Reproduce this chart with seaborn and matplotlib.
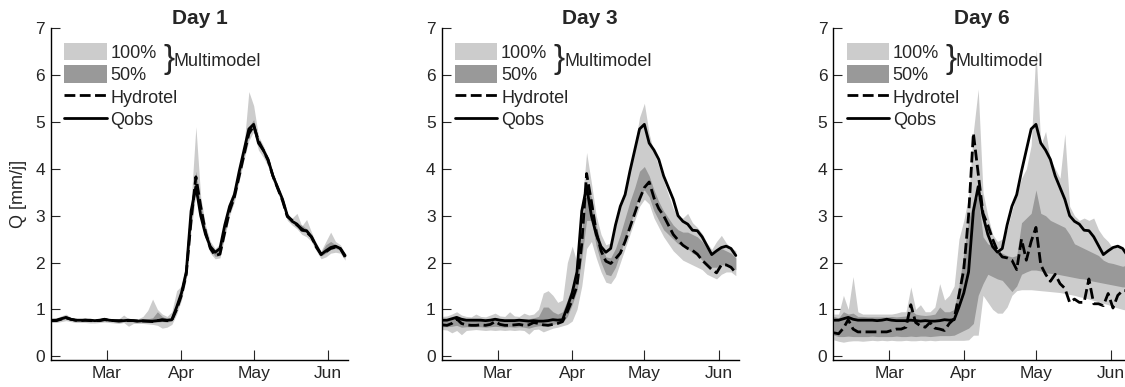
import numpy as np
import pandas as pd
import matplotlib
matplotlib.use("Agg")
import matplotlib.pyplot as plt
from matplotlib.patches import Patch
from matplotlib.lines import Line2D
import seaborn as sns

# Time axis: every second day from 6 February to 9 June
start = pd.Timestamp("2011-02-06")
day_offset = np.arange(0, 123, 2)
dates = start + pd.to_timedelta(day_offset, unit="D")

# Observed streamflow [mm/j]
qobs = [0.77, 0.77, 0.80, 0.83, 0.79, 0.77, 0.77, 0.77, 0.77, 0.76,
        0.77, 0.79, 0.77, 0.76, 0.76, 0.76, 0.77, 0.76, 0.75, 0.76,
        0.75, 0.75, 0.76, 0.78, 0.77, 0.78, 1.05, 1.35, 1.80, 3.10,
        3.62, 3.00, 2.60, 2.34, 2.22, 2.30, 2.80, 3.20, 3.45, 3.95,
        4.40, 4.85, 4.95, 4.55, 4.40, 4.20, 3.85, 3.60, 3.35, 3.00,
        2.88, 2.82, 2.69, 2.68, 2.55, 2.36, 2.17, 2.25, 2.32, 2.35,
        2.30, 2.15]

# ---- Day 1 forecasts ----
hyd_d1 = [0.76, 0.76, 0.79, 0.82, 0.79, 0.77, 0.76, 0.77, 0.76, 0.76,
          0.76, 0.78, 0.77, 0.76, 0.75, 0.76, 0.76, 0.76, 0.75, 0.75,
          0.75, 0.74, 0.76, 0.77, 0.76, 0.77, 1.00, 1.30, 1.75, 2.90,
          3.83, 3.20, 2.65, 2.30, 2.15, 2.18, 2.65, 3.10, 3.40, 3.85,
          4.30, 4.75, 4.92, 4.60, 4.40, 4.18, 3.85, 3.58, 3.32, 2.98,
          2.90, 2.80, 2.72, 2.65, 2.55, 2.33, 2.18, 2.23, 2.30, 2.33,
          2.30, 2.12]
lo100_d1 = [0.72, 0.72, 0.74, 0.76, 0.74, 0.72, 0.72, 0.72, 0.71, 0.71,
            0.72, 0.73, 0.72, 0.71, 0.70, 0.72, 0.64, 0.70, 0.70, 0.70,
            0.69, 0.68, 0.66, 0.60, 0.62, 0.68, 0.90, 1.20, 1.65, 2.70,
            3.45, 2.90, 2.50, 2.20, 2.08, 2.10, 2.55, 3.00, 3.30, 3.75,
            4.20, 4.60, 4.80, 4.40, 4.25, 4.05, 3.75, 3.50, 3.25, 2.90,
            2.80, 2.72, 2.60, 2.55, 2.45, 2.25, 2.08, 2.12, 2.20, 2.22,
            2.20, 2.05]
hi100_d1 = [0.80, 0.82, 0.86, 0.90, 0.83, 0.80, 0.80, 0.82, 0.80, 0.79,
            0.80, 0.83, 0.80, 0.79, 0.80, 0.88, 0.80, 0.79, 0.80, 0.85,
            0.98, 1.22, 1.00, 0.90, 0.85, 0.95, 1.40, 1.50, 2.00, 3.30,
            4.90, 3.40, 2.80, 2.45, 2.30, 2.40, 2.90, 3.30, 3.60, 4.05,
            4.50, 5.65, 5.35, 4.70, 4.50, 4.25, 3.90, 3.65, 3.40, 3.05,
            2.95, 3.05, 2.78, 2.92, 2.65, 2.42, 2.25, 2.45, 2.65, 2.45,
            2.38, 2.20]
lo50_d1 = [0.75, 0.75, 0.78, 0.80, 0.77, 0.75, 0.75, 0.75, 0.75, 0.74,
           0.75, 0.76, 0.75, 0.74, 0.73, 0.74, 0.74, 0.74, 0.73, 0.73,
           0.73, 0.72, 0.73, 0.74, 0.73, 0.75, 0.98, 1.28, 1.72, 2.85,
           3.58, 2.95, 2.58, 2.27, 2.13, 2.15, 2.62, 3.08, 3.38, 3.82,
           4.28, 4.72, 4.88, 4.50, 4.36, 4.15, 3.82, 3.55, 3.30, 2.95,
           2.85, 2.78, 2.67, 2.63, 2.52, 2.30, 2.14, 2.20, 2.28, 2.30,
           2.27, 2.10]
hi50_d1 = [0.78, 0.78, 0.81, 0.84, 0.80, 0.78, 0.78, 0.78, 0.78, 0.77,
           0.78, 0.80, 0.78, 0.77, 0.78, 0.79, 0.78, 0.77, 0.77, 0.78,
           0.80, 0.82, 0.95, 0.85, 0.80, 0.82, 1.15, 1.40, 1.85, 3.15,
           3.95, 3.25, 2.70, 2.38, 2.25, 2.35, 2.82, 3.22, 3.50, 3.98,
           4.42, 4.90, 5.05, 4.62, 4.45, 4.22, 3.88, 3.62, 3.36, 3.02,
           2.92, 2.85, 2.80, 2.72, 2.58, 2.38, 2.22, 2.38, 2.45, 2.38,
           2.33, 2.17]

# ---- Day 3 forecasts ----
hyd_d3 = [0.67, 0.66, 0.70, 0.80, 0.70, 0.67, 0.66, 0.66, 0.67, 0.66,
          0.68, 0.74, 0.68, 0.66, 0.66, 0.67, 0.68, 0.66, 0.67, 0.72,
          0.70, 0.67, 0.66, 0.68, 0.70, 0.74, 0.95, 1.20, 1.50, 2.40,
          3.90, 3.30, 2.65, 2.25, 2.03, 1.98, 2.08, 2.20, 2.45, 2.75,
          3.05, 3.35, 3.60, 3.72, 3.38, 3.15, 3.00, 2.80, 2.60, 2.48,
          2.37, 2.30, 2.26, 2.18, 2.05, 1.95, 1.85, 1.78, 1.95, 1.95,
          1.90, 1.78]
lo100_d3 = [0.57, 0.56, 0.50, 0.55, 0.46, 0.55, 0.56, 0.57, 0.56, 0.55,
            0.56, 0.55, 0.56, 0.55, 0.56, 0.55, 0.56, 0.55, 0.47, 0.57,
            0.58, 0.52, 0.56, 0.60, 0.62, 0.65, 0.68, 0.75, 1.00, 1.50,
            2.30, 2.45, 2.10, 1.80, 1.58, 1.55, 1.70, 2.00, 2.30, 2.60,
            2.90, 3.20, 3.35, 3.25, 2.95, 2.75, 2.55, 2.40, 2.25, 2.15,
            2.05, 2.00, 1.95, 1.90, 1.85, 1.75, 1.70, 1.65, 1.75, 1.80,
            1.80, 1.72]
hi100_d3 = [0.85, 0.86, 0.90, 0.95, 0.88, 0.85, 0.84, 0.90, 0.85, 0.84,
            0.88, 0.92, 0.86, 0.85, 0.95, 0.86, 0.85, 0.92, 0.88, 0.90,
            1.00, 1.35, 1.40, 1.30, 1.15, 1.20, 2.00, 2.35, 2.00, 3.20,
            4.35, 3.70, 3.00, 2.60, 2.38, 2.42, 2.85, 3.20, 3.60, 4.00,
            4.50, 5.10, 5.40, 4.75, 4.35, 4.05, 3.75, 3.45, 3.15, 2.98,
            2.95, 3.05, 2.85, 2.75, 2.62, 2.42, 2.28, 2.45, 2.58, 2.42,
            2.32, 2.25]
lo50_d3 = [0.63, 0.63, 0.64, 0.66, 0.62, 0.63, 0.63, 0.63, 0.63, 0.62,
           0.63, 0.64, 0.63, 0.62, 0.63, 0.62, 0.63, 0.62, 0.60, 0.63,
           0.65, 0.65, 0.68, 0.68, 0.70, 0.72, 0.85, 1.10, 1.40, 2.10,
           2.90, 2.90, 2.35, 2.00, 1.75, 1.72, 1.90, 2.20, 2.50, 2.80,
           3.10, 3.45, 3.55, 3.40, 3.10, 2.90, 2.70, 2.60, 2.50, 2.40,
           2.35, 2.30, 2.20, 2.15, 2.05, 1.95, 1.90, 1.90, 1.95, 1.95,
           1.90, 1.85]
hi50_d3 = [0.80, 0.80, 0.82, 0.85, 0.81, 0.80, 0.79, 0.80, 0.80, 0.79,
           0.80, 0.82, 0.80, 0.79, 0.80, 0.80, 0.79, 0.80, 0.80, 0.82,
           0.85, 1.05, 1.05, 0.95, 0.90, 0.95, 1.20, 1.50, 1.80, 2.70,
           3.60, 3.40, 2.80, 2.40, 2.12, 2.10, 2.30, 2.60, 2.95, 3.30,
           3.60, 3.95, 4.05, 3.85, 3.55, 3.30, 3.10, 2.95, 2.80, 2.70,
           2.65, 2.65, 2.60, 2.55, 2.45, 2.30, 2.20, 2.25, 2.30, 2.25,
           2.20, 2.10]

# ---- Day 6 forecasts ----
hyd_d6 = [0.50, 0.48, 0.60, 0.78, 0.58, 0.52, 0.52, 0.52, 0.52, 0.52,
          0.52, 0.52, 0.55, 0.58, 0.58, 0.62, 1.10, 0.72, 0.65, 0.62,
          0.72, 0.60, 0.58, 0.55, 0.70, 0.80, 1.30, 1.85, 3.00, 4.76,
          3.90, 3.05, 2.80, 2.50, 2.25, 2.12, 2.10, 2.05, 1.85, 2.50,
          2.05, 2.45, 2.75, 1.95, 1.75, 1.60, 1.75, 1.55, 1.45, 1.15,
          1.22, 1.15, 1.15, 1.65, 1.12, 1.12, 1.08, 1.34, 1.03, 1.30,
          1.40, 1.40]
lo100_d6 = [0.35, 0.32, 0.30, 0.32, 0.33, 0.33, 0.32, 0.33, 0.34, 0.33,
            0.34, 0.33, 0.34, 0.33, 0.33, 0.34, 0.33, 0.33, 0.34, 0.33,
            0.34, 0.33, 0.34, 0.34, 0.34, 0.34, 0.34, 0.34, 0.35, 0.45,
            0.45, 1.30, 1.15, 1.00, 0.92, 0.92, 1.05, 1.30, 1.40, 1.42,
            1.42, 1.42, 1.41, 1.40, 1.39, 1.38, 1.37, 1.36, 1.34, 1.32,
            1.30, 1.27, 1.25, 1.22, 1.19, 1.16, 1.13, 1.10, 1.06, 1.03,
            1.00, 0.98]
hi100_d6 = [0.90, 0.90, 1.30, 1.00, 1.70, 0.95, 0.90, 0.90, 0.90, 0.90,
            0.90, 0.90, 0.90, 0.92, 0.95, 0.95, 1.48, 1.00, 1.10, 0.95,
            0.95, 1.05, 1.55, 1.20, 1.30, 1.50, 2.50, 2.90, 3.40, 4.80,
            5.70, 3.50, 3.00, 2.60, 2.45, 2.50, 2.70, 3.10, 3.45, 3.80,
            4.00, 4.50, 6.55, 4.50, 4.80, 4.20, 4.00, 3.80, 4.75, 3.20,
            3.00, 2.90, 2.95, 2.90, 2.95, 2.70, 2.55, 2.45, 2.30, 2.35,
            2.25, 2.25]
lo50_d6 = [0.45, 0.42, 0.42, 0.43, 0.42, 0.42, 0.42, 0.42, 0.43, 0.42,
           0.42, 0.42, 0.42, 0.43, 0.42, 0.42, 0.43, 0.42, 0.43, 0.43,
           0.42, 0.43, 0.44, 0.44, 0.44, 0.45, 0.50, 0.55, 0.60, 0.70,
           1.30, 1.55, 1.75, 1.70, 1.65, 1.62, 1.50, 1.38, 1.50, 1.75,
           1.80, 1.84, 1.84, 1.82, 1.78, 1.77, 1.76, 1.74, 1.72, 1.70,
           1.68, 1.66, 1.65, 1.62, 1.60, 1.58, 1.56, 1.54, 1.52, 1.50,
           1.48, 1.48]
hi50_d6 = [0.85, 0.82, 0.95, 0.90, 0.92, 0.85, 0.85, 0.84, 0.84, 0.84,
           0.84, 0.84, 0.85, 0.84, 0.85, 0.86, 1.00, 0.90, 0.88, 0.87,
           0.88, 0.90, 1.05, 0.95, 0.95, 1.00, 1.50, 2.20, 2.90, 3.30,
           3.40, 2.55, 2.40, 2.35, 2.25, 2.20, 2.15, 2.12, 2.15, 2.85,
           2.95, 3.05, 3.55, 3.05, 3.00, 2.90, 2.85, 2.80, 2.75, 2.60,
           2.40, 2.35, 2.30, 2.25, 2.20, 2.15, 2.05, 2.00, 1.98, 1.95,
           1.92, 1.95]

panels = [
    ("Day 1", hyd_d1, lo100_d1, hi100_d1, lo50_d1, hi50_d1),
    ("Day 3", hyd_d3, lo100_d3, hi100_d3, lo50_d3, hi50_d3),
    ("Day 6", hyd_d6, lo100_d6, hi100_d6, lo50_d6, hi50_d6),
]

tick_dates = pd.to_datetime(["2011-03-01", "2011-04-01", "2011-05-01", "2011-06-01"])
tick_labels = ["Mar", "Apr", "May", "Jun"]

LIGHT = "#cccccc"
DARK = "#999999"
LW = 2.0
DASH = (0, (3.9, 1.6))

sns.set_style("ticks", {"xtick.direction": "in", "ytick.direction": "in"})
plt.rcParams["font.family"] = ["Liberation Sans", "DejaVu Sans"]

W, H = 1125, 387
fig = plt.figure(figsize=(W / 100, H / 100), dpi=100)
lefts = [51, 441.7, 833.3]

for left, (title, hyd, lo100, hi100, lo50, hi50) in zip(lefts, panels):
    ax = fig.add_axes([left / W, 27 / H, 297 / W, 331.7 / H])
    ax.fill_between(dates, lo100, hi100, color=LIGHT, lw=0, zorder=1)
    ax.fill_between(dates, lo50, hi50, color=DARK, lw=0, zorder=2)

    df = pd.DataFrame({"date": dates, "Hydrotel": hyd, "Qobs": qobs})
    sns.lineplot(data=df, x="date", y="Qobs", ax=ax, color="black",
                 lw=LW, zorder=3)
    sns.lineplot(data=df, x="date", y="Hydrotel", ax=ax, color="black",
                 lw=LW, linestyle=DASH, zorder=4)

    ax.set_xlim(start - pd.Timedelta(hours=5), start + pd.Timedelta(days=123.2))
    ax.set_ylim(-0.08, 7)
    ax.set_yticks(range(0, 8))
    ax.set_xticks(tick_dates)
    ax.set_xticklabels(tick_labels)
    ax.tick_params(axis="x", length=7, width=0.8, pad=4, labelsize=12.5)
    ax.tick_params(axis="y", length=6.5, width=0.8, pad=4.3, labelsize=12.5)
    ax.set_xlabel("")
    ax.set_ylabel("")
    for side in ("top", "right"):
        ax.spines[side].set_visible(False)
    for side in ("left", "bottom"):
        ax.spines[side].set_linewidth(1.0)
        ax.spines[side].set_color("black")
    ax.set_title(title, fontsize=15, fontweight="bold", pad=1.5)

    handles = [Patch(facecolor=LIGHT, edgecolor="none"),
               Patch(facecolor=DARK, edgecolor="none"),
               Line2D([], [], color="black", lw=LW, linestyle=DASH),
               Line2D([], [], color="black", lw=LW)]
    ax.legend(handles, ["100%", "50%", "Hydrotel", "Qobs"],
              loc="upper left", bbox_to_anchor=(0.045, 0.956),
              frameon=False, fontsize=13, handlelength=2.35,
              handleheight=1.1, handletextpad=0.2, labelspacing=0.2,
              borderaxespad=0, borderpad=0)
    ax.text(0.378, 0.905, "}", transform=ax.transAxes, fontsize=24,
            va="center", ha="left")
    ax.text(0.412, 0.899, "Multimodel", transform=ax.transAxes,
            fontsize=13, va="center", ha="left")

    if left == lefts[0]:
        ax.set_ylabel("Q [mm/j]", fontsize=13, labelpad=6)

fig.savefig("out.png", dpi=100)
